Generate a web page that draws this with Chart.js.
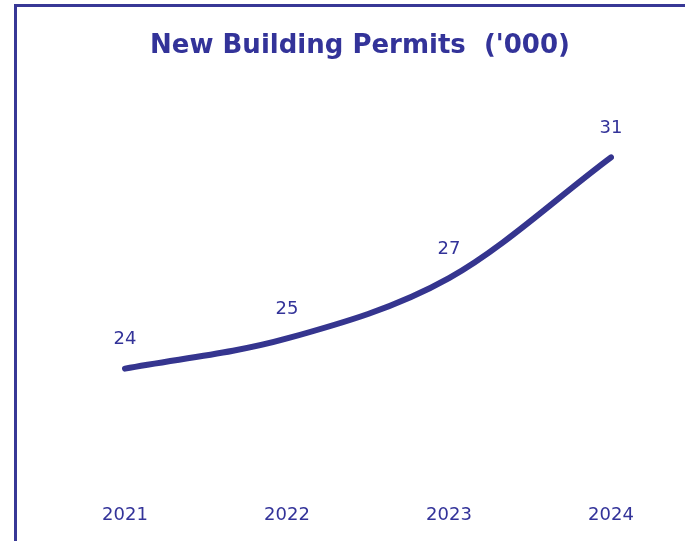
<!DOCTYPE html>
<html>
<head>
<meta charset="utf-8">
<script src="https://cdn.jsdelivr.net/npm/chart.js@4"></script>
<style>
  html, body { margin: 0; padding: 0; background: #fff; overflow: hidden; }
  #wrap { position: relative; width: 685px; height: 541px; }
  #frame {
    position: absolute; left: 14px; top: 4px; width: 700px; height: 560px;
    border-left: 3px solid #383896; border-top: 3px solid #383896;
  }
  canvas { position: absolute; left: 0; top: 0; }
</style>
</head>
<body>
<div id="wrap">
  <div id="frame"></div>
  <canvas id="permitsChart" width="685" height="541"></canvas>
</div>
<script>
// -------------------------
// Data
// -------------------------
const years = ["2021", "2022", "2023", "2024"];
const permits = [24, 25, 27, 31];

const navy = "#333399";

// -------------------------
// Value labels above points
// -------------------------
const pointLabels = {
  id: "pointLabels",
  afterDatasetsDraw(chart) {
    const ctx = chart.ctx;
    const meta = chart.getDatasetMeta(0);
    ctx.save();
    ctx.font = "18px 'DejaVu Sans'";
    ctx.fillStyle = navy;
    ctx.textAlign = "center";
    ctx.textBaseline = "middle";
    meta.data.forEach((pt, i) => {
      ctx.fillText(String(permits[i]), pt.x, pt.y - 29);
    });
    ctx.restore();
  }
};

// nudge the title a bit left so it sits centred in the framed box
const titleShift = {
  id: "titleShift",
  beforeDraw(chart) {
    if (chart.titleBlock) chart.titleBlock.left -= 16;
  }
};

// -------------------------
// Line chart
// -------------------------
const ctx = document.getElementById("permitsChart").getContext("2d");
new Chart(ctx, {
  type: "line",
  data: {
    labels: years,
    datasets: [{
      label: "Permits",
      data: permits,
      borderColor: "#35358f",
      borderWidth: 6,
      borderCapStyle: "round",
      borderJoinStyle: "round",
      cubicInterpolationMode: "monotone",
      pointRadius: 0,
      fill: false
    }]
  },
  options: {
    responsive: false,
    animation: false,
    layout: { padding: { left: 125, right: 74, top: 0, bottom: 0 } },
    plugins: {
      legend: { display: false },
      tooltip: { enabled: false },
      title: {
        display: true,
        text: "New Building Permits  ('000)",
        color: navy,
        font: { family: "'DejaVu Sans'", size: 26, weight: "bold" },
        padding: { top: 31, bottom: 65 }
      }
    },
    scales: {
      x: {
        offset: false,
        grid: { display: false, drawTicks: false },
        border: { display: false },
        ticks: {
          color: navy,
          padding: 15,
          font: { family: "'DejaVu Sans'", size: 18 }
        }
      },
      y: {
        display: false,
        min: 20,
        max: 32
      }
    }
  },
  plugins: [pointLabels, titleShift]
});
</script>
</body>
</html>
